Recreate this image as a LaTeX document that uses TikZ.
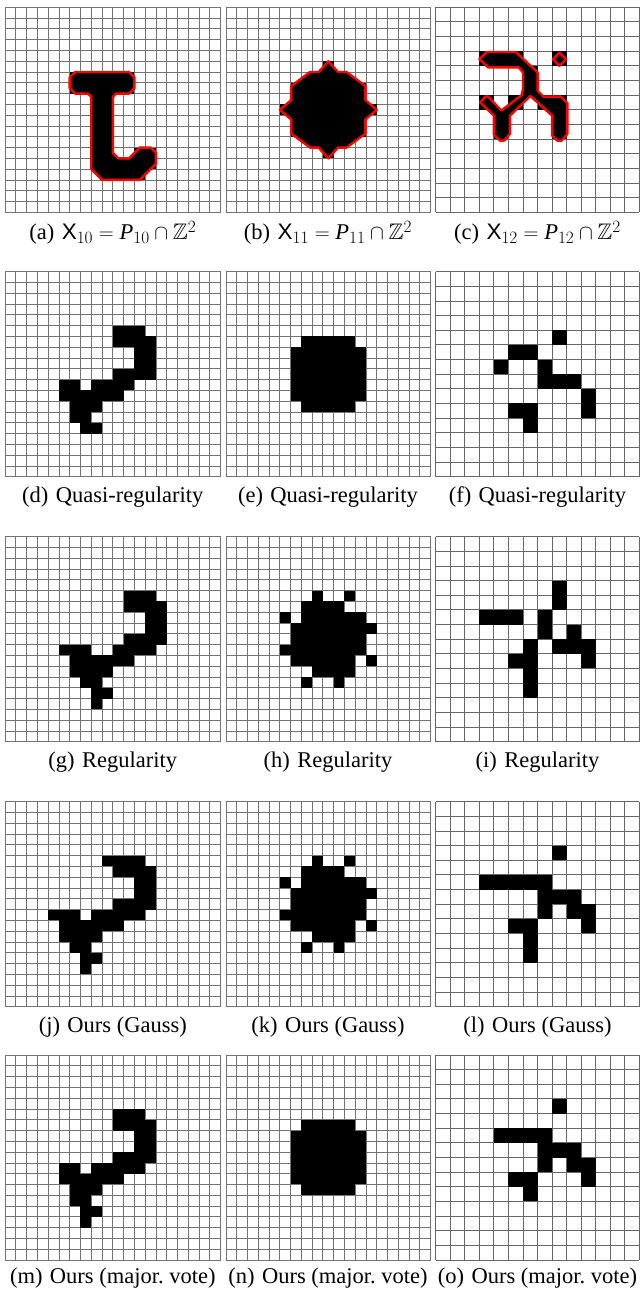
\documentclass[tikz,border=0pt]{standalone}
\usepackage{amsmath,amssymb}
\usepackage{fontspec}
\setmainfont{Liberation Serif}
\setsansfont{Liberation Sans}
\DeclareMathSizes{22.5}{22.5}{16}{12}
\newcommand{\capgap}{~\hspace{0.08em}}
\tikzset{
  gridline/.style={draw=black!55, line width=0.8pt},
  gridlinec/.style={draw=black!60, line width=0.9pt},
  redpoly/.style={fill=black, draw=red, line width=2.4pt, line join=round},
  captext/.style={font=\fontsize{22.5}{26}\selectfont, anchor=center, inner sep=0pt}
}
% #1 x0, #2 y0, #3 nx, #4 ny, #5 width, #6 height, #7 spans row/a/b, #8 extra, #9 grid style
\newcommand{\pxpanel}[9]{%
  \pgfmathsetmacro{\pxcw}{#5/#3}\pgfmathsetmacro{\pxch}{#6/#4}%
  \begin{scope}[shift={(#1,#2)}, x=\pxcw pt, y=-\pxch pt]
    \foreach \ii in {0,...,#3} {\draw[#9] (\ii,0) -- (\ii,#4);}
    \foreach \jj in {0,...,#4} {\draw[#9] (0,\jj) -- (#3,\jj);}
    \foreach \rr/\ca/\cb in {#7} {\fill[black] (\ca,\rr) rectangle ({\cb+1},{\rr+1});}
    #8
  \end{scope}}
\begin{document}
\begin{tikzpicture}[x=1pt,y=-1pt]
\useasboundingbox (0,0) rectangle (640,1291);
\fill[white] (0,0) rectangle (640,1291);
% ---------- row 1
\pxpanel{5}{7.3}{20}{19}{215.6}{205}{6/6/11, 7/6/11, 8/8/9, 9/8/9, 10/8/9, 11/8/9, 12/8/9, 13/8/9, 13/12/13, 14/8/13, 15/9/12}{%
  \filldraw[redpoly] (6,6.5) -- (6.5,6) -- (11.5,6) -- (12,6.5) -- (12,7.5) -- (11.5,8) -- (10.3,8) -- (10,8.3) -- (10,13.5) -- (10.5,14) -- (11.5,14) -- (12.5,13) -- (13.5,13) -- (14,13.5) -- (14,14.5) -- (12.5,16) -- (9,16) -- (8,15) -- (8,8.3) -- (7.7,8) -- (6.5,8) -- (6,7.5) -- cycle;}{gridline}
\pxpanel{226}{7.3}{19}{19}{204.5}{205}{5/9/9, 6/8/10, 7/6/12, 8/6/12, 9/5/13, 10/6/12, 11/6/12, 12/8/10, 13/9/9}{%
  \filldraw[redpoly] (9.5,5) -- (10.4,6) -- (11.2,6) -- (12.95,7.3) -- (12.95,8.6) -- (14,9.5) -- (12.95,10.4) -- (12.95,11.7) -- (11.2,13) -- (10.4,13) -- (9.5,14) -- (8.6,13) -- (7.8,13) -- (6.05,11.7) -- (6.05,10.4) -- (5,9.5) -- (6.05,8.6) -- (6.05,7.3) -- (7.8,6) -- (8.6,6) -- cycle;}{gridline}
\pxpanel{435.8}{7.3}{14}{14}{203.5}{205}{3/3/5, 3/8/8, 4/6/6, 5/6/6, 6/3/3, 6/5/5, 6/7/8, 7/4/4, 7/8/8, 8/4/4, 8/8/8}{%
  \filldraw[redpoly] (3,3.55) -- (3.5,3.05) -- (5.5,3.05) -- (7,4.45) -- (7,5.7) -- (7.4,6.1) -- (8.6,6.1) -- (9.05,6.55) -- (9.05,8.65) -- (8.65,9.1) -- (8.35,9.1) -- (8,8.75) -- (8,7.4) -- (6.5,6.05) -- (5.1,7.4) -- (5.1,8.65) -- (4.7,9.1) -- (4.4,9.1) -- (4,8.7) -- (4,7.4) -- (3.05,6.5) -- (3.4,6.1) -- (3.6,6.1) -- (4.5,7.05) -- (5.9,6) -- (6,5.6) -- (6,4.45) -- (5.7,4.1) -- (3.6,4.1) -- cycle;
  \filldraw[redpoly] (8.5,3.1) -- (8.95,3.55) -- (8.5,4.0) -- (8.05,3.55) -- cycle;}{gridlinec}
\node[captext] (capa) at (112.8,233) {(a)\capgap$\mathsf{X}_{10} = \textit{P}_{10} \cap \mathbb{Z}^2$};
\node[captext] (capb) at (328,233) {(b)\capgap$\mathsf{X}_{11} = \textit{P}_{11} \cap \mathbb{Z}^2$};
\node[captext] (capc) at (537.5,233) {(c)\capgap$\mathsf{X}_{12} = \textit{P}_{12} \cap \mathbb{Z}^2$};
% ---------- row 2
\pxpanel{5}{271.7}{20}{19}{215.6}{205}{5/10/12, 6/10/13, 7/12/13, 8/12/13, 9/10/13, 10/5/6, 10/8/11, 11/5/10, 12/6/8, 13/6/7, 14/7/8}{}{gridline}
\pxpanel{226}{271.7}{19}{19}{204.5}{205}{6/7/11, 7/6/12, 8/6/12, 9/6/12, 10/6/12, 11/6/12, 12/7/11}{}{gridline}
\pxpanel{435.8}{271.7}{14}{14}{203.5}{205}{4/8/8, 5/5/6, 6/4/4, 6/7/7, 7/7/9, 8/10/10, 9/5/6, 9/10/10, 10/6/6}{}{gridlinec}
\node[captext] (capd) at (112.8,497) {(d)\capgap Quasi-regularity};
\node[captext] (cape) at (328,497) {(e)\capgap Quasi-regularity};
\node[captext] (capf) at (537.5,497) {(f)\capgap Quasi-regularity};
% ---------- row 3
\pxpanel{5}{536.7}{20}{19}{215.6}{205}{5/11/13, 6/11/14, 7/13/14, 8/13/14, 9/11/14, 10/5/7, 10/10/13, 11/6/11, 12/6/9, 13/7/8, 14/8/9, 15/8/8}{}{gridline}
\pxpanel{226}{536.7}{19}{19}{204.5}{205}{5/8/8, 5/11/11, 6/7/10, 7/5/5, 7/7/12, 8/6/13, 9/6/12, 10/5/12, 11/6/11, 11/13/13, 12/8/11, 13/7/7, 13/10/10}{}{gridline}
\pxpanel{435.8}{536.7}{14}{14}{203.5}{205}{3/8/8, 4/8/8, 5/3/5, 5/7/7, 6/7/7, 6/9/9, 7/6/6, 7/8/10, 8/5/6, 8/10/10, 9/6/6, 10/6/6}{}{gridlinec}
\node[captext] (capg) at (112.8,762) {(g)\capgap Regularity};
\node[captext] (caph) at (328,762) {(h)\capgap Regularity};
\node[captext] (capi) at (537.5,762) {(i)\capgap Regularity};
% ---------- row 4
\pxpanel{5}{801.7}{20}{19}{215.6}{205}{5/9/12, 6/10/13, 7/12/13, 8/12/13, 9/10/13, 10/4/6, 10/8/12, 11/5/10, 12/5/8, 13/6/7, 14/7/8, 15/7/7}{}{gridline}
\pxpanel{226}{801.7}{19}{19}{204.5}{205}{5/8/8, 5/11/11, 6/7/10, 7/5/5, 7/7/12, 8/6/13, 9/6/12, 10/5/12, 11/6/11, 11/13/13, 12/8/11, 13/7/7, 13/10/10}{}{gridline}
\pxpanel{435.8}{801.7}{14}{14}{203.5}{205}{3/8/8, 5/3/7, 6/7/9, 7/7/7, 7/9/10, 8/5/6, 8/10/10, 9/6/6, 10/6/6}{}{gridlinec}
\node[captext] (capj) at (112.8,1027) {(j)\capgap Ours (Gauss)};
\node[captext] (capk) at (328,1027) {(k)\capgap Ours (Gauss)};
\node[captext] (capl) at (537.5,1027) {(l)\capgap Ours (Gauss)};
% ---------- row 5
\pxpanel{5}{1055}{20}{19}{215.6}{205}{5/10/12, 6/10/13, 7/12/13, 8/12/13, 9/10/13, 10/5/6, 10/8/12, 11/5/10, 12/6/8, 13/6/7, 14/7/8, 15/7/7}{}{gridline}
\pxpanel{226}{1055}{19}{19}{204.5}{205}{6/7/11, 7/6/12, 8/6/12, 9/6/12, 10/6/12, 11/6/12, 12/7/11}{}{gridline}
\pxpanel{435.8}{1055}{14}{14}{203.5}{205}{3/8/8, 5/4/7, 6/7/9, 7/7/7, 7/9/10, 8/5/6, 8/10/10, 9/6/6}{}{gridlinec}
\node[captext] (capm) at (112.8,1278) {(m)\capgap Ours (major.~vote)};
\node[captext] (capn) at (328,1278) {(n)\capgap Ours (major.~vote)};
\node[captext] (capo) at (537.5,1278) {(o)\capgap Ours (major.~vote)};
\end{tikzpicture}
\end{document}
